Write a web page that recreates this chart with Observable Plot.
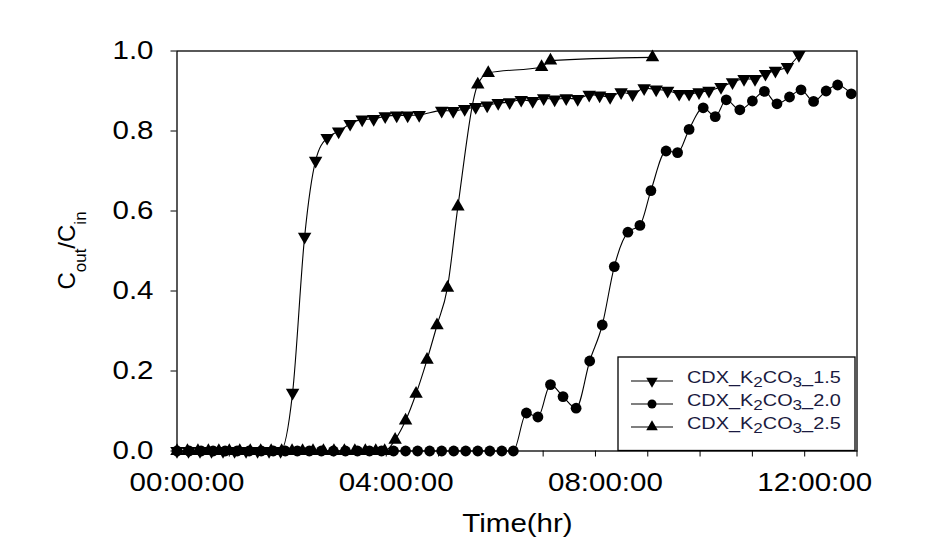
<!DOCTYPE html>
<html><head><meta charset="utf-8">
<script src="https://cdn.jsdelivr.net/npm/d3@7"></script>
<script src="https://cdn.jsdelivr.net/npm/@observablehq/plot@0.6"></script>
<style>
html,body{margin:0;padding:0;background:#fff;}
#chart{width:944px;height:551px;position:relative;}
</style></head><body><div id="chart"></div>
<script>
// ---------- data (time in hours, Cout/Cin) ----------
const seriesKeys = ["1.5", "2.0", "2.5"];

const t15 = [0, 0.22, 0.44, 0.66, 0.88, 1.10, 1.32, 1.54, 1.76, 1.98,
  2.21, 2.44, 2.65, 2.87, 3.09, 3.31, 3.54, 3.76, 3.98, 4.20, 4.41, 4.63,
  5.06, 5.28, 5.50, 5.71, 5.93, 6.14, 6.36, 6.58, 6.80, 7.01,
  7.22, 7.44, 7.66, 7.88, 8.08, 8.28, 8.49, 8.71,
  8.93, 9.16, 9.38, 9.60, 9.79, 9.98, 10.17, 10.40, 10.62, 10.84,
  11.05, 11.25, 11.44, 11.67, 11.89];
const v15 = [0, 0, 0, 0, 0, 0, 0, 0, 0, 0,
  0.146, 0.536, 0.726, 0.783, 0.799, 0.818, 0.829, 0.830, 0.837, 0.839, 0.839, 0.840,
  0.851, 0.850, 0.855, 0.860, 0.864, 0.870, 0.872, 0.878, 0.875, 0.882,
  0.879, 0.882, 0.880, 0.891, 0.889, 0.885, 0.897, 0.892,
  0.907, 0.904, 0.901, 0.893, 0.893, 0.897, 0.901, 0.910, 0.922, 0.930,
  0.930, 0.943, 0.951, 0.960, 0.990];

const t20 = [0, 0.23, 0.46, 0.69, 0.92, 1.15, 1.38, 1.61, 1.84, 2.07,
  2.30, 2.53, 2.76, 2.99, 3.22, 3.45, 3.68, 3.91, 4.14, 4.37,
  4.60, 4.83, 5.06, 5.29, 5.52, 5.75, 5.98, 6.21, 6.43,
  6.68, 6.90, 7.14, 7.38, 7.63, 7.89, 8.13, 8.36, 8.62, 8.85,
  9.06, 9.35, 9.57, 9.79, 10.06, 10.29, 10.50, 10.76, 11.00, 11.23,
  11.47, 11.71, 11.93, 12.17, 12.41, 12.63, 12.89];
const v20 = [0, 0, 0, 0, 0, 0, 0, 0, 0, 0,
  0, 0, 0, 0, 0, 0, 0, 0, 0, 0,
  0, 0, 0, 0, 0, 0, 0, 0, 0,
  0.095, 0.085, 0.166, 0.136, 0.107, 0.225, 0.315, 0.461, 0.547, 0.564,
  0.651, 0.750, 0.746, 0.804, 0.858, 0.836, 0.878, 0.853, 0.875, 0.899,
  0.868, 0.885, 0.903, 0.874, 0.900, 0.915, 0.893];

const t25 = [0, 0.2, 0.4, 0.6, 0.8, 1.0, 1.2, 1.4, 1.6, 1.8,
  2.0, 2.2, 2.4, 2.6, 2.8, 3.0, 3.2, 3.4, 3.6, 3.8, 3.97,
  4.17, 4.37, 4.57, 4.78, 4.97, 5.17, 5.37, 5.75, 5.95, 6.97, 7.14, 9.09];
const v25 = [0, 0, 0, 0, 0, 0, 0, 0, 0, 0,
  0, 0, 0, 0, 0, 0, 0, 0, 0, 0, 0,
  0.028, 0.076, 0.143, 0.228, 0.314, 0.408, 0.611, 0.916, 0.945, 0.960, 0.976, 0.984];

const xTickHours = [0, 1, 2, 3, 4, 5, 6, 7, 8, 9, 10, 11, 12, 13];
const xMajorHours = [0, 4, 8, 12];
const xMajorLabels = ["00:00:00", "04:00:00", "08:00:00", "12:00:00"];
const yTicks = [0, 0.2, 0.4, 0.6, 0.8, 1.0];
const yTickLabels = ["0.0", "0.2", "0.4", "0.6", "0.8", "1.0"];
const xTitle = "Time(hr)";

// ---------- build ----------
const d15 = t15.map((t, i) => ({t, v: v15[i]}));
const d20 = t20.map((t, i) => ({t, v: v20[i]}));
const d25 = t25.map((t, i) => ({t, v: v25[i]}));

const FONT = "'Liberation Sans', Arial, Helvetica, sans-serif";
const SX = 1.18;

const triUp = {draw(ctx, size) {
  const y = Math.sqrt(size / (Math.sqrt(3) * 3)), s = Math.sqrt(3) * y;
  ctx.moveTo(0, -2 * y); ctx.lineTo(-s, y); ctx.lineTo(s, y); ctx.closePath();
}};
const triDown = {draw(ctx, size) {
  const y = Math.sqrt(size / (Math.sqrt(3) * 3)), s = Math.sqrt(3) * y;
  ctx.moveTo(0, 2 * y); ctx.lineTo(-s, -y); ctx.lineTo(s, -y); ctx.closePath();
}};

const lineOpts = {x: "t", y: "v", curve: "monotone-x", stroke: "black", strokeWidth: 1.1};

const svg = Plot.plot({
  width: 944, height: 551,
  marginLeft: 176.5, marginRight: 87.5, marginTop: 50.5, marginBottom: 100.5,
  x: {domain: [0, 13]},
  y: {domain: [0, 1]},
  style: {fontFamily: FONT, fontSize: "25px", color: "black", background: "white", overflow: "visible"},
  marks: [
    Plot.axisY({ticks: yTicks, tickFormat: d => yTickLabels[yTicks.indexOf(d)], tickSize: 6, tickPadding: 17.5, label: null}),
    Plot.axisX({ticks: xTickHours, tickFormat: d => { const k = xMajorHours.indexOf(d); return k >= 0 ? xMajorLabels[k] : ""; }, tickSize: 6, tickPadding: 16, label: null}),
    Plot.line(d15, lineOpts),
    Plot.line(d20, lineOpts),
    Plot.line(d25, lineOpts),
    Plot.dot(d20, {x: "t", y: "v", symbol: "circle", r: 5.4, fill: "black"}),
    Plot.dot(d25, {x: "t", y: "v", symbol: triUp, r: 5, fill: "black"}),
    Plot.dot(d15, {x: "t", y: "v", symbol: triDown, r: 5, fill: "black"}),
    Plot.frame({stroke: "black", strokeWidth: 1.3})
  ]
});

// widen horizontal tick labels (reference text is horizontally stretched)
function stretch(t, dx) {
  const tr = t.getAttribute("transform") || "";
  let extra = "";
  const x = t.getAttribute("x"), y = t.getAttribute("y");
  if (x !== null && !isNaN(+x)) { extra += ` translate(${+x},0)`; t.removeAttribute("x"); }
  if (y !== null && !isNaN(+y)) { extra += ` translate(0,${+y})`; t.removeAttribute("y"); }
  t.setAttribute("transform", `${tr}${extra} translate(${dx},0) scale(${SX},1)`);
}
svg.querySelectorAll('g[aria-label="x-axis tick label"] text').forEach(t => stretch(t, 10));
svg.querySelectorAll('g[aria-label="y-axis tick label"] text').forEach(t => stretch(t, 0));

const S = d3.select(svg);
const xs = svg.scale("x");
const xMid = (xs.range[0] + xs.range[1]) / 2;

// x axis title
S.append("text")
  .attr("transform", `translate(${xMid + 1},532) scale(${SX},1)`)
  .attr("text-anchor", "middle").attr("font-size", 25).attr("fill", "black")
  .text(xTitle);

// y axis title C_out/C_in
const yl = S.append("text")
  .attr("transform", "translate(75,250.5) rotate(-90)")
  .attr("text-anchor", "middle").attr("font-size", 24).attr("fill", "black");
yl.append("tspan").text("C");
yl.append("tspan").attr("font-size", 17).attr("dy", 11).text("out");
yl.append("tspan").attr("dy", -11).text("/C");
yl.append("tspan").attr("font-size", 17).attr("dy", 11).text("in");

// legend
const leg = S.append("g").attr("aria-label", "legend").attr("text-anchor", "start");
leg.append("rect").attr("x", 618).attr("y", 357).attr("width", 237).attr("height", 93.5)
  .attr("fill", "white").attr("stroke", "black").attr("stroke-width", 1.3);
const legSyms = [triDown, d3.symbolCircle, triUp];
const legSizes = [Math.PI * 4.3 * 4.3, Math.PI * 4.5 * 4.5, Math.PI * 4.3 * 4.3];
seriesKeys.forEach((k, i) => {
  const yy = 381 + i * 23;
  leg.append("line").attr("x1", 631).attr("x2", 673).attr("y1", yy).attr("y2", yy)
    .attr("stroke", "black").attr("stroke-width", 1.1);
  leg.append("path").attr("d", d3.symbol(legSyms[i], legSizes[i])())
    .attr("transform", `translate(652,${yy})`).attr("fill", "black");
  const tx = leg.append("text")
    .attr("transform", `translate(687,${yy + 1.5}) scale(1.22,1)`)
    .attr("text-anchor", "start")
    .attr("font-size", 16.3).attr("fill", "#1a1a40");
  tx.append("tspan").text("CDX_K");
  tx.append("tspan").attr("font-size", 14).attr("dy", 4).text("2");
  tx.append("tspan").attr("dy", -4).text("CO");
  tx.append("tspan").attr("font-size", 14).attr("dy", 4).text("3");
  tx.append("tspan").attr("dy", -4).text("_" + k);
});

document.getElementById("chart").appendChild(svg);
</script>
</body></html>
